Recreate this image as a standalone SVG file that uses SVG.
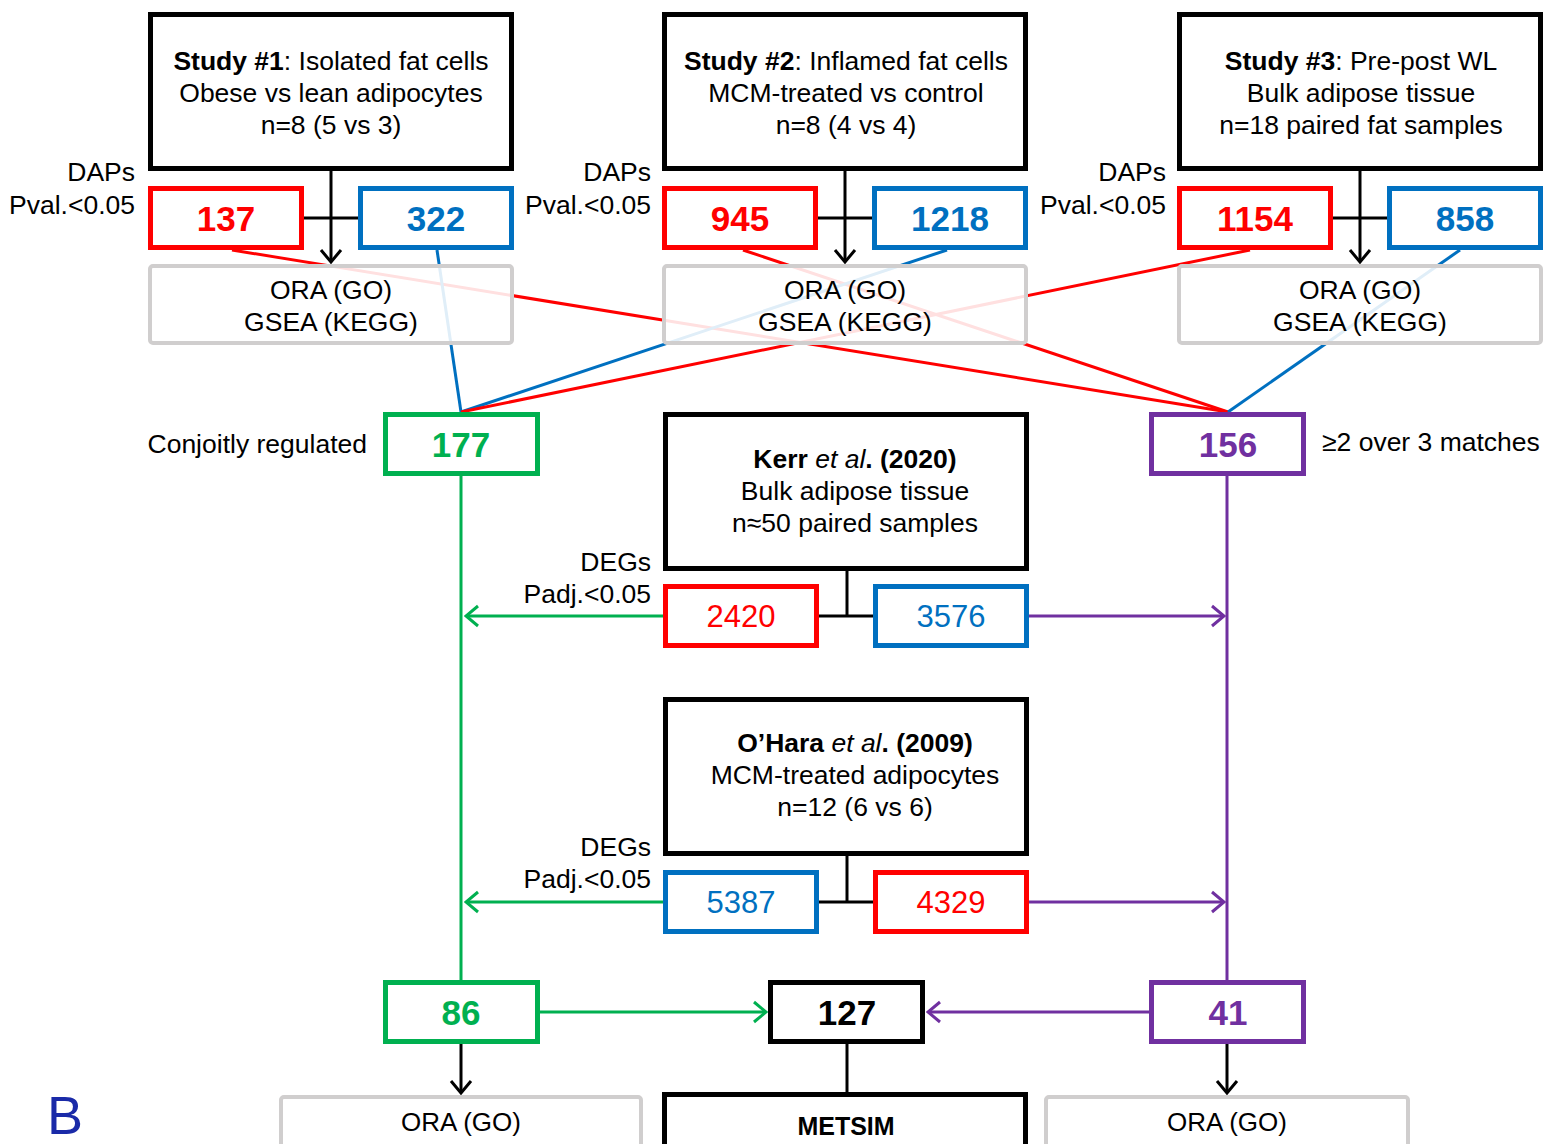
<svg xmlns="http://www.w3.org/2000/svg" width="1555" height="1144" viewBox="0 0 1555 1144">
<defs>
<style>
text{font-family:"Liberation Sans",Arial,sans-serif;fill:#000}
.t{font-size:26.5px;text-anchor:middle}
.lbl{font-size:26.5px;text-anchor:end}
.num{font-size:35px;font-weight:bold;text-anchor:middle}
.num2{font-size:31px;text-anchor:middle}
.study{fill:#fff;stroke:#000;stroke-width:5}
.ora{fill:#fff;fill-opacity:0.88;stroke:#d0cece;stroke-width:4}
.rb{fill:#fff;stroke:#ff0000;stroke-width:5}
.bb{fill:#fff;stroke:#0070c0;stroke-width:5}
.gb{fill:#fff;stroke:#00b050;stroke-width:5}
.pb{fill:#fff;stroke:#7030a0;stroke-width:5}
.kb{fill:#fff;stroke:#000;stroke-width:5}
.k{stroke:#000;stroke-width:3;fill:none}
.g{stroke:#00b050;stroke-width:3;fill:none}
.p{stroke:#7030a0;stroke-width:3;fill:none}
.r{stroke:#ff0000;stroke-width:3;fill:none}
.b{stroke:#0070c0;stroke-width:3;fill:none}
</style>
<marker id="ak" markerUnits="userSpaceOnUse" markerWidth="16" markerHeight="24" viewBox="0 0 16 24" refX="14" refY="12" orient="auto"><path d="M2,2 L14,12 L2,22" fill="none" stroke="#000" stroke-width="3"/></marker>
<marker id="ag" markerUnits="userSpaceOnUse" markerWidth="16" markerHeight="24" viewBox="0 0 16 24" refX="14" refY="12" orient="auto"><path d="M2,2 L14,12 L2,22" fill="none" stroke="#00b050" stroke-width="3"/></marker>
<marker id="ap" markerUnits="userSpaceOnUse" markerWidth="16" markerHeight="24" viewBox="0 0 16 24" refX="14" refY="12" orient="auto"><path d="M2,2 L14,12 L2,22" fill="none" stroke="#7030a0" stroke-width="3"/></marker>
</defs>
<rect width="1555" height="1144" fill="#fff"/>

<g id="connectors">
<line class="r" x1="232" y1="250" x2="1228" y2="412"/>
<line class="b" x1="437" y1="250" x2="461" y2="412"/>
<line class="r" x1="743" y1="250" x2="1228" y2="412"/>
<line class="b" x1="947" y1="250" x2="461" y2="412"/>
<line class="r" x1="1250" y1="250" x2="461" y2="412"/>
<line class="b" x1="1460" y1="250" x2="1228" y2="412"/>
<line class="k" x1="331" y1="171" x2="331" y2="262" marker-end="url(#ak)"/>
<line class="k" x1="304" y1="218" x2="358" y2="218"/>
<line class="k" x1="845" y1="171" x2="845" y2="262" marker-end="url(#ak)"/>
<line class="k" x1="818" y1="218" x2="872" y2="218"/>
<line class="k" x1="1360" y1="171" x2="1360" y2="262" marker-end="url(#ak)"/>
<line class="k" x1="1333" y1="218" x2="1387" y2="218"/>
<line class="k" x1="847" y1="571" x2="847" y2="616"/>
<line class="k" x1="819" y1="616" x2="873" y2="616"/>
<line class="k" x1="847" y1="856" x2="847" y2="902"/>
<line class="k" x1="819" y1="902" x2="873" y2="902"/>
<line class="g" x1="663" y1="616" x2="466" y2="616" marker-end="url(#ag)"/>
<line class="g" x1="663" y1="902" x2="466" y2="902" marker-end="url(#ag)"/>
<line class="p" x1="1029" y1="616" x2="1224" y2="616" marker-end="url(#ap)"/>
<line class="p" x1="1029" y1="902" x2="1224" y2="902" marker-end="url(#ap)"/>
<line class="g" x1="461" y1="476" x2="461" y2="980"/>
<line class="p" x1="1227" y1="476" x2="1227" y2="980"/>
<line class="g" x1="540" y1="1012" x2="766" y2="1012" marker-end="url(#ag)"/>
<line class="p" x1="1149" y1="1012" x2="928" y2="1012" marker-end="url(#ap)"/>
<line class="k" x1="847" y1="1044" x2="847" y2="1092"/>
<line class="k" x1="461" y1="1044" x2="461" y2="1093" marker-end="url(#ak)"/>
<line class="k" x1="1227" y1="1044" x2="1227" y2="1093" marker-end="url(#ak)"/>
</g>

<g id="study1">
<rect class="study" x="150.5" y="14.5" width="361" height="154"/>
<text class="t" x="331" y="70"><tspan font-weight="bold">Study #1</tspan>: Isolated fat cells</text>
<text class="t" x="331" y="102">Obese vs lean adipocytes</text>
<text class="t" x="331" y="134">n=8 (5 vs 3)</text>
</g>
<g id="study2">
<rect class="study" x="664.5" y="14.5" width="361" height="154"/>
<text class="t" x="846" y="70"><tspan font-weight="bold">Study #2</tspan>: Inflamed fat cells</text>
<text class="t" x="846" y="102">MCM-treated vs control</text>
<text class="t" x="846" y="134">n=8 (4 vs 4)</text>
</g>
<g id="study3">
<rect class="study" x="1179.5" y="14.5" width="361" height="154"/>
<text class="t" x="1361" y="70"><tspan font-weight="bold">Study #3</tspan>: Pre-post WL</text>
<text class="t" x="1361" y="102">Bulk adipose tissue</text>
<text class="t" x="1361" y="134">n=18 paired fat samples</text>
</g>

<g id="labels-daps">
<text class="lbl" x="135" y="181">DAPs</text>
<text class="lbl" x="135" y="214">Pval.&lt;0.05</text>
<text class="lbl" x="651" y="181">DAPs</text>
<text class="lbl" x="651" y="214">Pval.&lt;0.05</text>
<text class="lbl" x="1166" y="181">DAPs</text>
<text class="lbl" x="1166" y="214">Pval.&lt;0.05</text>
</g>

<g id="n137"><rect class="rb" x="150.5" y="188.5" width="151" height="59"/><text class="num" x="226" y="231" style="fill:#ff0000">137</text></g>
<g id="n322"><rect class="bb" x="360.5" y="188.5" width="151" height="59"/><text class="num" x="436" y="231" style="fill:#0070c0">322</text></g>
<g id="n945"><rect class="rb" x="664.5" y="188.5" width="151" height="59"/><text class="num" x="740" y="231" style="fill:#ff0000">945</text></g>
<g id="n1218"><rect class="bb" x="874.5" y="188.5" width="151" height="59"/><text class="num" x="950" y="231" style="fill:#0070c0">1218</text></g>
<g id="n1154"><rect class="rb" x="1179.5" y="188.5" width="151" height="59"/><text class="num" x="1255" y="231" style="fill:#ff0000">1154</text></g>
<g id="n858"><rect class="bb" x="1389.5" y="188.5" width="151" height="59"/><text class="num" x="1465" y="231" style="fill:#0070c0">858</text></g>

<g id="ora1"><rect class="ora" x="150" y="266" width="362" height="77" rx="3"/><text class="t" x="331" y="299">ORA (GO)</text><text class="t" x="331" y="331">GSEA (KEGG)</text></g>
<g id="ora2"><rect class="ora" x="664" y="266" width="362" height="77" rx="3"/><text class="t" x="845" y="299">ORA (GO)</text><text class="t" x="845" y="331">GSEA (KEGG)</text></g>
<g id="ora3"><rect class="ora" x="1179" y="266" width="362" height="77" rx="3"/><text class="t" x="1360" y="299">ORA (GO)</text><text class="t" x="1360" y="331">GSEA (KEGG)</text></g>

<g id="n177"><rect class="gb" x="385.5" y="414.5" width="152" height="59"/><text class="num" x="461" y="457" style="fill:#00b050">177</text></g>
<text class="lbl" x="367" y="453">Conjoitly regulated</text>
<g id="n156"><rect class="pb" x="1151.5" y="414.5" width="152" height="59"/><text class="num" x="1228" y="457" style="fill:#7030a0">156</text></g>
<text x="1322" y="451" style="font-size:26.5px">≥2 over 3 matches</text>

<g id="kerr">
<rect class="study" x="665.5" y="414.5" width="361" height="154"/>
<text class="t" x="855" y="468"><tspan font-weight="bold">Kerr </tspan><tspan font-style="italic">et al</tspan><tspan font-weight="bold">. (2020)</tspan></text>
<text class="t" x="855" y="500">Bulk adipose tissue</text>
<text class="t" x="855" y="532">n≈50 paired samples</text>
</g>
<text class="lbl" x="651" y="571">DEGs</text>
<text class="lbl" x="651" y="603">Padj.&lt;0.05</text>
<g id="n2420"><rect class="rb" x="665.5" y="586.5" width="151" height="59"/><text class="num2" x="741" y="627" style="fill:#ff0000">2420</text></g>
<g id="n3576"><rect class="bb" x="875.5" y="586.5" width="151" height="59"/><text class="num2" x="951" y="627" style="fill:#0070c0">3576</text></g>

<g id="ohara">
<rect class="study" x="665.5" y="699.5" width="361" height="154"/>
<text class="t" x="855" y="752"><tspan font-weight="bold">O’Hara </tspan><tspan font-style="italic">et al</tspan><tspan font-weight="bold">. (2009)</tspan></text>
<text class="t" x="855" y="784">MCM-treated adipocytes</text>
<text class="t" x="855" y="816">n=12 (6 vs 6)</text>
</g>
<text class="lbl" x="651" y="856">DEGs</text>
<text class="lbl" x="651" y="888">Padj.&lt;0.05</text>
<g id="n5387"><rect class="bb" x="665.5" y="872.5" width="151" height="59"/><text class="num2" x="741" y="913" style="fill:#0070c0">5387</text></g>
<g id="n4329"><rect class="rb" x="875.5" y="872.5" width="151" height="59"/><text class="num2" x="951" y="913" style="fill:#ff0000">4329</text></g>

<g id="n86"><rect class="gb" x="385.5" y="982.5" width="152" height="59"/><text class="num" x="461" y="1025" style="fill:#00b050">86</text></g>
<g id="n127"><rect class="kb" x="770.5" y="982.5" width="152" height="59"/><text class="num" x="847" y="1025">127</text></g>
<g id="n41"><rect class="pb" x="1151.5" y="982.5" width="152" height="59"/><text class="num" x="1228" y="1025" style="fill:#7030a0">41</text></g>

<g id="ora-left"><rect class="ora" x="281" y="1097" width="360" height="60" rx="3"/><text x="461" y="1131" style="font-size:26px;text-anchor:middle">ORA (GO)</text></g>
<g id="metsim"><rect class="study" x="664.5" y="1094.5" width="361" height="60"/><text x="846" y="1135" style="font-size:25px;font-weight:bold;text-anchor:middle">METSIM</text></g>
<g id="ora-right"><rect class="ora" x="1046" y="1097" width="362" height="60" rx="3"/><text x="1227" y="1131" style="font-size:26px;text-anchor:middle">ORA (GO)</text></g>

<text x="47" y="1134" style="font-size:54px;fill:#1a2aa8">B</text>
</svg>
